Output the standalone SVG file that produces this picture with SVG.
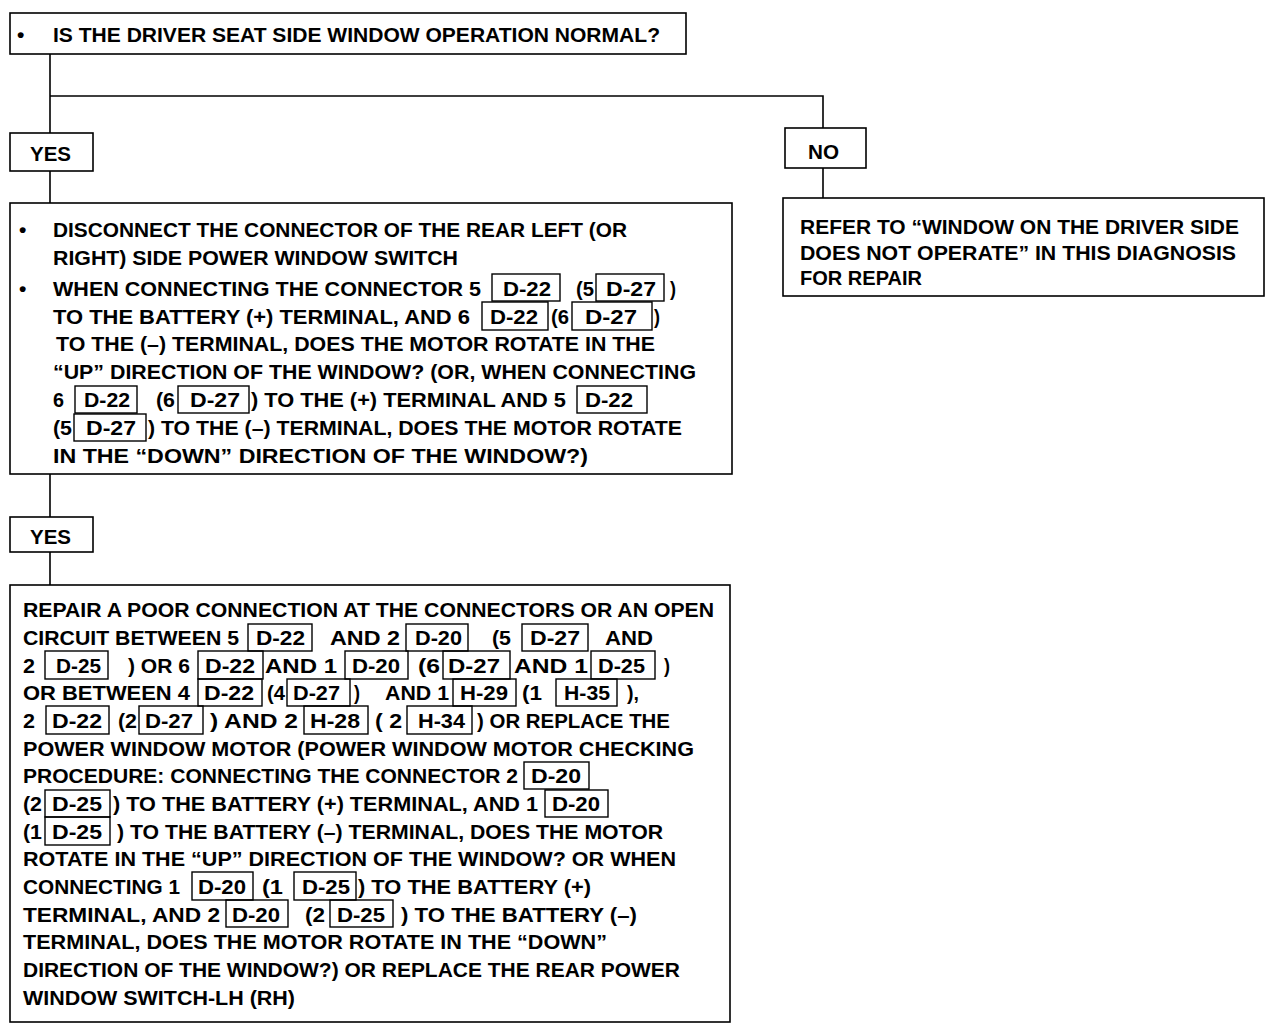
<svg xmlns="http://www.w3.org/2000/svg" width="1280" height="1028" viewBox="0 0 1280 1028">
<style>
.box{fill:#fff;stroke:#000;stroke-width:1.6}
.tag{fill:none;stroke:#000;stroke-width:1.4}
.ln{fill:none;stroke:#000;stroke-width:1.6}
text{font-family:"Liberation Sans","Arial",sans-serif;font-weight:bold;font-size:21px;fill:#000}
</style>
<rect width="1280" height="1028" fill="#fff"/>
<g id="connectors">
<path class="ln" d="M50 54V133M50 96H823V128M50 171V203M823 168V198M50 474V517M50 552V585"/>
</g>
<g id="q1">
<rect class="box" x="10" y="13" width="676" height="41"/>
<text x="17" y="42">•</text>
<text x="53" y="42" textLength="607" lengthAdjust="spacingAndGlyphs">IS THE DRIVER SEAT SIDE WINDOW OPERATION NORMAL?</text>
</g>
<g id="yes1">
<rect class="box" x="10" y="133" width="83" height="38"/>
<text x="30" y="161" textLength="41" lengthAdjust="spacingAndGlyphs">YES</text>
</g>
<g id="no1">
<rect class="box" x="785" y="128" width="81" height="40"/>
<text x="808" y="159" textLength="31" lengthAdjust="spacingAndGlyphs">NO</text>
</g>
<g id="no-result">
<rect class="box" x="783" y="198" width="481" height="98"/>
<text x="800" y="234" textLength="439" lengthAdjust="spacingAndGlyphs">REFER TO “WINDOW ON THE DRIVER SIDE</text>
<text x="800" y="260" textLength="436" lengthAdjust="spacingAndGlyphs">DOES NOT OPERATE” IN THIS DIAGNOSIS</text>
<text x="800" y="285" textLength="122" lengthAdjust="spacingAndGlyphs">FOR REPAIR</text>
</g>
<g id="q2">
<rect class="box" x="10" y="203" width="722" height="271"/>
<text x="19" y="237">•</text>
<text x="53" y="237" textLength="574" lengthAdjust="spacingAndGlyphs">DISCONNECT THE CONNECTOR OF THE REAR LEFT (OR</text>
<text x="53" y="265" textLength="405" lengthAdjust="spacingAndGlyphs">RIGHT) SIDE POWER WINDOW SWITCH</text>
<text x="19" y="296">•</text>
<text x="53" y="296" textLength="428" lengthAdjust="spacingAndGlyphs">WHEN CONNECTING THE CONNECTOR  5</text>
<rect class="tag" x="492" y="274" width="68" height="27"/>
<text x="503" y="296" textLength="48" lengthAdjust="spacingAndGlyphs">D-22</text>
<text x="576" y="296" textLength="18" lengthAdjust="spacingAndGlyphs">(5</text>
<rect class="tag" x="596" y="274" width="68" height="27"/>
<text x="606" y="296" textLength="50" lengthAdjust="spacingAndGlyphs">D-27</text>
<text x="670" y="296" textLength="6" lengthAdjust="spacingAndGlyphs">)</text>
<text x="53" y="324" textLength="417" lengthAdjust="spacingAndGlyphs">TO THE BATTERY (+) TERMINAL, AND  6</text>
<rect class="tag" x="482" y="302" width="66" height="28"/>
<text x="490" y="324" textLength="48" lengthAdjust="spacingAndGlyphs">D-22</text>
<text x="551" y="324" textLength="18" lengthAdjust="spacingAndGlyphs">(6</text>
<rect class="tag" x="572" y="302" width="80" height="28"/>
<text x="585" y="324" textLength="52" lengthAdjust="spacingAndGlyphs">D-27</text>
<text x="654" y="324" textLength="6" lengthAdjust="spacingAndGlyphs">)</text>
<text x="56" y="351" textLength="599" lengthAdjust="spacingAndGlyphs">TO THE (–) TERMINAL, DOES THE MOTOR ROTATE IN THE</text>
<text x="53" y="379" textLength="643" lengthAdjust="spacingAndGlyphs">“UP” DIRECTION OF THE WINDOW? (OR, WHEN CONNECTING</text>
<text x="53" y="407" textLength="11" lengthAdjust="spacingAndGlyphs">6</text>
<rect class="tag" x="75" y="386" width="62" height="27"/>
<text x="84" y="407" textLength="46" lengthAdjust="spacingAndGlyphs">D-22</text>
<text x="156" y="407" textLength="19" lengthAdjust="spacingAndGlyphs">(6</text>
<rect class="tag" x="178" y="386" width="71" height="27"/>
<text x="190" y="407" textLength="50" lengthAdjust="spacingAndGlyphs">D-27</text>
<text x="251" y="407" textLength="315" lengthAdjust="spacingAndGlyphs">) TO THE (+) TERMINAL AND 5</text>
<rect class="tag" x="577" y="386" width="70" height="27"/>
<text x="585" y="407" textLength="48" lengthAdjust="spacingAndGlyphs">D-22</text>
<text x="53" y="435" textLength="19" lengthAdjust="spacingAndGlyphs">(5</text>
<rect class="tag" x="74" y="414" width="72" height="27"/>
<text x="86" y="435" textLength="50" lengthAdjust="spacingAndGlyphs">D-27</text>
<text x="148" y="435" textLength="534" lengthAdjust="spacingAndGlyphs">) TO THE (–) TERMINAL, DOES THE MOTOR ROTATE</text>
<text x="53" y="463" textLength="535" lengthAdjust="spacingAndGlyphs">IN THE “DOWN” DIRECTION OF THE WINDOW?)</text>
</g>
<g id="yes2">
<rect class="box" x="10" y="517" width="83" height="35"/>
<text x="30" y="544" textLength="41" lengthAdjust="spacingAndGlyphs">YES</text>
</g>
<g id="repair">
<rect class="box" x="10" y="585" width="720" height="437"/>
<text x="23" y="617" textLength="691" lengthAdjust="spacingAndGlyphs">REPAIR A POOR CONNECTION AT THE CONNECTORS OR AN OPEN</text>
<text x="23" y="645" textLength="216" lengthAdjust="spacingAndGlyphs">CIRCUIT BETWEEN 5</text>
<rect class="tag" x="248" y="624" width="64" height="27"/>
<text x="256" y="645" textLength="49" lengthAdjust="spacingAndGlyphs">D-22</text>
<text x="330" y="645" textLength="70" lengthAdjust="spacingAndGlyphs">AND 2</text>
<rect class="tag" x="406" y="624" width="62" height="27"/>
<text x="415" y="645" textLength="47" lengthAdjust="spacingAndGlyphs">D-20</text>
<text x="492" y="645" textLength="19" lengthAdjust="spacingAndGlyphs">(5</text>
<rect class="tag" x="522" y="624" width="66" height="27"/>
<text x="530" y="645" textLength="50" lengthAdjust="spacingAndGlyphs">D-27</text>
<text x="605" y="645" textLength="48" lengthAdjust="spacingAndGlyphs">AND</text>
<text x="23" y="673" textLength="12" lengthAdjust="spacingAndGlyphs">2</text>
<rect class="tag" x="45" y="651" width="63" height="28"/>
<text x="56" y="673" textLength="45" lengthAdjust="spacingAndGlyphs">D-25</text>
<text x="128" y="673" textLength="62" lengthAdjust="spacingAndGlyphs">) OR 6</text>
<rect class="tag" x="198" y="651" width="65" height="28"/>
<text x="205" y="673" textLength="50" lengthAdjust="spacingAndGlyphs">D-22</text>
<text x="265" y="673" textLength="72" lengthAdjust="spacingAndGlyphs">AND  1</text>
<rect class="tag" x="345" y="651" width="63" height="28"/>
<text x="352" y="673" textLength="48" lengthAdjust="spacingAndGlyphs">D-20</text>
<text x="418" y="673" textLength="22" lengthAdjust="spacingAndGlyphs">(6</text>
<rect class="tag" x="443" y="651" width="67" height="28"/>
<text x="448" y="673" textLength="52" lengthAdjust="spacingAndGlyphs">D-27</text>
<text x="514" y="673" textLength="74" lengthAdjust="spacingAndGlyphs">AND  1</text>
<rect class="tag" x="591" y="651" width="64" height="28"/>
<text x="598" y="673" textLength="47" lengthAdjust="spacingAndGlyphs">D-25</text>
<text x="664" y="673" textLength="6" lengthAdjust="spacingAndGlyphs">)</text>
<text x="23" y="700" textLength="167" lengthAdjust="spacingAndGlyphs">OR BETWEEN  4</text>
<rect class="tag" x="198" y="679" width="64" height="27"/>
<text x="204" y="700" textLength="50" lengthAdjust="spacingAndGlyphs">D-22</text>
<text x="267" y="700" textLength="18" lengthAdjust="spacingAndGlyphs">(4</text>
<rect class="tag" x="287" y="679" width="63" height="27"/>
<text x="293" y="700" textLength="47" lengthAdjust="spacingAndGlyphs">D-27</text>
<text x="354" y="700" textLength="6" lengthAdjust="spacingAndGlyphs">)</text>
<text x="385" y="700" textLength="64" lengthAdjust="spacingAndGlyphs">AND 1</text>
<rect class="tag" x="453" y="679" width="63" height="27"/>
<text x="460" y="700" textLength="48" lengthAdjust="spacingAndGlyphs">H-29</text>
<text x="522" y="700" textLength="20" lengthAdjust="spacingAndGlyphs">(1</text>
<rect class="tag" x="556" y="679" width="61" height="27"/>
<text x="564" y="700" textLength="46" lengthAdjust="spacingAndGlyphs">H-35</text>
<text x="627" y="700" textLength="12" lengthAdjust="spacingAndGlyphs">),</text>
<text x="23" y="728" textLength="12" lengthAdjust="spacingAndGlyphs">2</text>
<rect class="tag" x="46" y="706" width="63" height="28"/>
<text x="52" y="728" textLength="50" lengthAdjust="spacingAndGlyphs">D-22</text>
<text x="118" y="728" textLength="19" lengthAdjust="spacingAndGlyphs">(2</text>
<rect class="tag" x="139" y="706" width="64" height="28"/>
<text x="145" y="728" textLength="48" lengthAdjust="spacingAndGlyphs">D-27</text>
<text x="210" y="728" textLength="88" lengthAdjust="spacingAndGlyphs">)  AND 2</text>
<rect class="tag" x="304" y="706" width="64" height="28"/>
<text x="310" y="728" textLength="50" lengthAdjust="spacingAndGlyphs">H-28</text>
<text x="375" y="728" textLength="27" lengthAdjust="spacingAndGlyphs">( 2</text>
<rect class="tag" x="407" y="706" width="65" height="28"/>
<text x="418" y="728" textLength="47" lengthAdjust="spacingAndGlyphs">H-34</text>
<text x="477" y="728" textLength="193" lengthAdjust="spacingAndGlyphs">) OR REPLACE THE</text>
<text x="23" y="756" textLength="671" lengthAdjust="spacingAndGlyphs">POWER WINDOW MOTOR (POWER WINDOW  MOTOR CHECKING</text>
<text x="23" y="783" textLength="495" lengthAdjust="spacingAndGlyphs">PROCEDURE: CONNECTING THE CONNECTOR 2</text>
<rect class="tag" x="524" y="762" width="65" height="27"/>
<text x="531" y="783" textLength="50" lengthAdjust="spacingAndGlyphs">D-20</text>
<text x="23" y="811" textLength="19" lengthAdjust="spacingAndGlyphs">(2</text>
<rect class="tag" x="45" y="790" width="65" height="27"/>
<text x="52" y="811" textLength="50" lengthAdjust="spacingAndGlyphs">D-25</text>
<text x="113" y="811" textLength="425" lengthAdjust="spacingAndGlyphs">) TO THE BATTERY (+) TERMINAL, AND  1</text>
<rect class="tag" x="545" y="790" width="63" height="27"/>
<text x="552" y="811" textLength="48" lengthAdjust="spacingAndGlyphs">D-20</text>
<text x="23" y="839" textLength="19" lengthAdjust="spacingAndGlyphs">(1</text>
<rect class="tag" x="45" y="817" width="65" height="28"/>
<text x="52" y="839" textLength="50" lengthAdjust="spacingAndGlyphs">D-25</text>
<text x="117" y="839" textLength="546" lengthAdjust="spacingAndGlyphs">) TO THE BATTERY (–) TERMINAL, DOES THE MOTOR</text>
<text x="23" y="866" textLength="653" lengthAdjust="spacingAndGlyphs">ROTATE IN THE “UP” DIRECTION OF THE WINDOW?  OR WHEN</text>
<text x="23" y="894" textLength="157" lengthAdjust="spacingAndGlyphs">CONNECTING 1</text>
<rect class="tag" x="192" y="872" width="61" height="28"/>
<text x="198" y="894" textLength="48" lengthAdjust="spacingAndGlyphs">D-20</text>
<text x="262" y="894" textLength="21" lengthAdjust="spacingAndGlyphs">(1</text>
<rect class="tag" x="294" y="872" width="62" height="28"/>
<text x="302" y="894" textLength="48" lengthAdjust="spacingAndGlyphs">D-25</text>
<text x="358" y="894" textLength="233" lengthAdjust="spacingAndGlyphs">)  TO THE BATTERY (+)</text>
<text x="23" y="922" textLength="197" lengthAdjust="spacingAndGlyphs">TERMINAL, AND  2</text>
<rect class="tag" x="226" y="900" width="62" height="27"/>
<text x="232" y="922" textLength="48" lengthAdjust="spacingAndGlyphs">D-20</text>
<text x="305" y="922" textLength="20" lengthAdjust="spacingAndGlyphs">(2</text>
<rect class="tag" x="330" y="900" width="63" height="27"/>
<text x="337" y="922" textLength="48" lengthAdjust="spacingAndGlyphs">D-25</text>
<text x="401" y="922" textLength="236" lengthAdjust="spacingAndGlyphs">)  TO THE BATTERY (–)</text>
<text x="23" y="949" textLength="584" lengthAdjust="spacingAndGlyphs">TERMINAL, DOES THE MOTOR ROTATE IN THE “DOWN”</text>
<text x="23" y="977" textLength="657" lengthAdjust="spacingAndGlyphs">DIRECTION OF THE WINDOW?)  OR REPLACE THE REAR POWER</text>
<text x="23" y="1005" textLength="272" lengthAdjust="spacingAndGlyphs">WINDOW SWITCH-LH (RH)</text>
</g>
</svg>
